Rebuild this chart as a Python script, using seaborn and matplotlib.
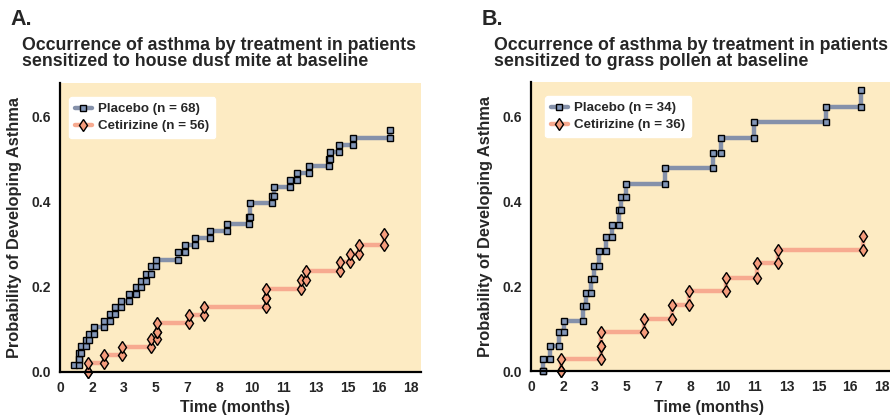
import matplotlib
matplotlib.use("Agg")
import matplotlib.pyplot as plt
import seaborn as sns
from matplotlib.lines import Line2D

# ---------------- data ----------------
# Each series: step events as (time, cumulative probability after the event)
# Panel A: house dust mite
a_placebo_t = [0.73, 0.95, 0.95, 1.09, 1.34, 1.51, 1.75, 2.27, 2.54, 2.80, 3.15, 3.53,
               3.90, 4.16, 4.42, 4.68, 4.93, 6.06, 6.40, 6.92, 7.67, 8.54, 9.66, 9.75,
               10.87, 10.95, 11.77, 12.15, 12.77, 13.76, 13.84, 14.30, 15.02, 16.90]
a_placebo_p = [0.015, 0.029, 0.044, 0.059, 0.074, 0.089, 0.104, 0.120, 0.135, 0.151,
               0.166, 0.182, 0.198, 0.214, 0.230, 0.249, 0.262, 0.281, 0.297, 0.314,
               0.330, 0.348, 0.364, 0.398, 0.414, 0.434, 0.452, 0.468, 0.484, 0.502,
               0.518, 0.534, 0.551, 0.569]
a_cetir_t = [1.43, 1.43, 2.25, 3.18, 4.67, 4.95, 4.95, 6.60, 7.38, 10.54, 10.54,
             12.37, 12.59, 14.35, 14.87, 15.31, 16.59]
a_cetir_p = [0.0, 0.019, 0.038, 0.057, 0.076, 0.094, 0.114, 0.133, 0.153, 0.173, 0.194,
             0.216, 0.237, 0.257, 0.277, 0.297, 0.323]

# Panel B: grass pollen
b_placebo_t = [0.64, 0.64, 0.99, 1.46, 1.70, 2.64, 2.80, 3.07, 3.21, 3.47, 3.86, 4.13,
               4.51, 4.63, 4.85, 6.87, 9.33, 9.74, 11.44, 15.12, 16.93]
b_placebo_p = [0.0, 0.028, 0.060, 0.091, 0.118, 0.154, 0.184, 0.216, 0.247, 0.282,
               0.315, 0.344, 0.378, 0.410, 0.441, 0.477, 0.514, 0.549, 0.585, 0.622, 0.662]
b_cetir_t = [1.55, 1.55, 3.60, 3.60, 5.79, 7.25, 8.10, 10.00, 11.56, 12.65, 17.02]
b_cetir_p = [0.0, 0.028, 0.060, 0.091, 0.123, 0.156, 0.189, 0.219, 0.255, 0.285, 0.318]

panel_letters = ["A.", "B."]
titles = [["Occurrence of asthma by treatment in patients",
           "sensitized to house dust mite at baseline"],
          ["Occurrence of asthma by treatment in patients",
           "sensitized to grass pollen at baseline"]]
legend_labels = [["Placebo (n = 68)", "Cetirizine (n = 56)"],
                 ["Placebo (n = 34)", "Cetirizine (n = 36)"]]
xtick_labels = ["0", "2", "3", "5", "7", "8", "10", "11", "13", "15", "16", "18"]
ytick_values = [0.0, 0.2, 0.4, 0.6]
ytick_labels = ["0.0", "0.2", "0.4", "0.6"]
xlabel = "Time (months)"
ylabel = "Probability of Developing Asthma"

# ---------------- style ----------------
sns.set_style("white")
plt.rcParams["font.family"] = ["Liberation Sans", "DejaVu Sans"]
plt.rcParams["font.weight"] = "bold"

BG = "#fdebc3"
PLA_LINE = "#8591aa"
PLA_FACE = "#8296b8"
CET_LINE = "#f7aa90"
CET_FACE = "#f59c7c"


def step_path(ts, ps):
    xs, ys = [ts[0]], [ps[0]]
    for i in range(1, len(ts)):
        xs += [ts[i], ts[i]]
        ys += [ps[i - 1], ps[i]]
    return xs, ys


W, H = 890, 419
fig = plt.figure(figsize=(W / 100, H / 100), dpi=100)
fig.patch.set_facecolor("white")

axes_px = [(60, 83, 361, 288.5), (531, 82, 361, 289)]
legend_off = [9, 14]
title_x = [22, 494]
letter_x = [10, 482]
series = [((a_placebo_t, a_placebo_p), (a_cetir_t, a_cetir_p)),
          ((b_placebo_t, b_placebo_p), (b_cetir_t, b_cetir_p))]

for k in range(2):
    x0, y0, w, h = axes_px[k]
    ax = fig.add_axes([x0 / W, (H - y0 - h) / H, w / W, h / H])
    ax.set_facecolor(BG)
    (pt, pp), (ct, cp) = series[k]
    px, py = step_path(pt, pp)
    cx, cy = step_path(ct, cp)
    sns.lineplot(x=px, y=py, ax=ax, sort=False, estimator=None, color=PLA_LINE,
                 lw=3.2, marker="s", markersize=4.4, markerfacecolor=PLA_FACE,
                 markeredgecolor="black", markeredgewidth=1.0, clip_on=False)
    sns.lineplot(x=cx, y=cy, ax=ax, sort=False, estimator=None, color=CET_LINE,
                 lw=3.2, marker="d", markersize=6.5, markerfacecolor=CET_FACE,
                 markeredgecolor="black", markeredgewidth=1.0, clip_on=False)
    ax.set_xlim(0, 18.5)
    ax.set_ylim(0, 0.68)
    ax.set_xticks([18 * i / 11 for i in range(12)])
    ax.set_xticklabels(xtick_labels)
    ax.set_yticks(ytick_values)
    ax.set_yticklabels(ytick_labels)
    ax.tick_params(axis="both", which="major", direction="out", length=3.6, width=1.4,
                   color="black", labelsize=10, pad=3)
    for lab in ax.get_xticklabels() + ax.get_yticklabels():
        lab.set_fontweight("bold")
    for s in ["top", "right"]:
        ax.spines[s].set_visible(False)
    for s in ["left", "bottom"]:
        ax.spines[s].set_color("black")
        ax.spines[s].set_linewidth(1.6)
    ax.set_xlabel(xlabel, fontsize=11.5, fontweight="bold")
    ax.set_ylabel(ylabel, fontsize=11.8, fontweight="bold")
    ax.xaxis.set_label_coords([0.485, 0.493][k], -0.10)
    ax.yaxis.set_label_coords(-0.125, 0.5)
    ax.xaxis.label.set_va("top")
    ax.yaxis.label.set_va("center")

    handles = [Line2D([], [], color=PLA_LINE, lw=3.2, marker="s", markersize=4.4,
                      markerfacecolor=PLA_FACE, markeredgecolor="black", markeredgewidth=1.0),
               Line2D([], [], color=CET_LINE, lw=3.2, marker="d", markersize=6.5,
                      markerfacecolor=CET_FACE, markeredgecolor="black", markeredgewidth=1.0)]
    leg = ax.legend(handles, legend_labels[k], loc="upper left",
                    bbox_to_anchor=(legend_off[k] / w, 1 - 14 / h), borderaxespad=0,
                    frameon=True, fancybox=True, framealpha=1, edgecolor="white",
                    facecolor="white", prop={"weight": "bold", "size": 9.6},
                    handlelength=1.25, handletextpad=0.5, labelspacing=0.35, borderpad=0.45)

    fig.text(letter_x[k] / W, 1 - 25 / H, panel_letters[k], fontsize=15.5, fontweight="bold",
             va="baseline", ha="left")
    fig.text(title_x[k] / W, 1 - 50 / H, titles[k][0], fontsize=12.8, fontweight="bold",
             va="baseline", ha="left")
    fig.text(title_x[k] / W, 1 - 66.5 / H, titles[k][1], fontsize=12.8, fontweight="bold",
             va="baseline", ha="left")

fig.savefig("out.png", dpi=100, facecolor="white")
